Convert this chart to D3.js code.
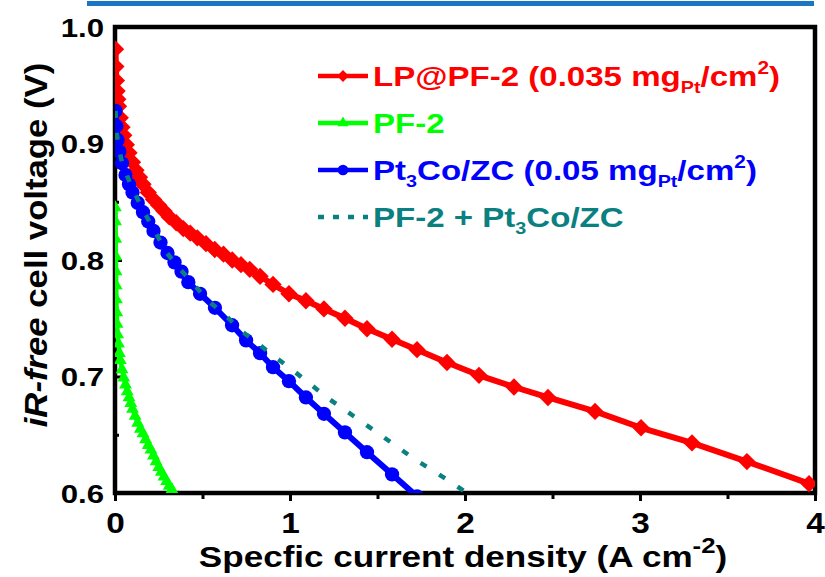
<!DOCTYPE html>
<html>
<head>
<meta charset="utf-8">
<script src="https://cdn.jsdelivr.net/npm/d3@7"></script>
<style>
  body { margin: 0; background: #fff; }
  svg { display: block; font-family: "Liberation Sans", Arial, sans-serif; font-weight: bold; }
</style>
</head>
<body>
<svg id="chart" width="825" height="577"></svg>
<script>
// LP@PF-2 (0.035 mgPt/cm2)
const lpCurrent = [0.003, 0.005, 0.008, 0.012, 0.016, 0.02, 0.03, 0.04, 0.05, 0.065, 0.08, 0.1, 0.12, 0.14, 0.16,
  0.19, 0.22, 0.25, 0.28, 0.31, 0.35, 0.39, 0.43, 0.47, 0.52, 0.57, 0.62, 0.67, 0.72, 0.77, 0.829, 0.903, 0.994,
  1.091, 1.194, 1.314, 1.44, 1.583, 1.726, 1.897, 2.08, 2.28, 2.474, 2.743, 3.006, 3.297, 3.611, 3.966];
const lpVoltage = [0.981, 0.966, 0.954, 0.945, 0.938, 0.932, 0.922, 0.914, 0.907, 0.899, 0.892, 0.884, 0.877, 0.871, 0.865,
  0.858, 0.852, 0.847, 0.842, 0.837, 0.832, 0.827, 0.823, 0.819, 0.814, 0.809, 0.805, 0.800, 0.796, 0.792, 0.786, 0.779, 0.771,
  0.765, 0.758, 0.750, 0.741, 0.732, 0.723, 0.712, 0.701, 0.691, 0.682, 0.670, 0.656, 0.643, 0.627, 0.608];

// PF-2
const pfCurrent = [0.002, 0.003, 0.004, 0.005, 0.006, 0.007, 0.008, 0.01, 0.012, 0.015, 0.02, 0.025, 0.03, 0.04, 0.05,
  0.06, 0.07, 0.08, 0.09, 0.1, 0.115, 0.13, 0.145, 0.16, 0.175, 0.19, 0.205, 0.22, 0.235, 0.25, 0.265, 0.28, 0.295, 0.31, 0.325];
const pfVoltage = [0.845, 0.833, 0.818, 0.803, 0.790, 0.778, 0.766, 0.755, 0.745, 0.736, 0.728, 0.720, 0.714, 0.706, 0.699,
  0.693, 0.687, 0.682, 0.677, 0.672, 0.666, 0.660, 0.655, 0.651, 0.646, 0.641, 0.637, 0.632, 0.627, 0.622, 0.618, 0.614, 0.610, 0.606, 0.603];

// Pt3Co/ZC (0.05 mgPt/cm2)
const ptCurrent = [0.003, 0.008, 0.015, 0.025, 0.04, 0.06, 0.08, 0.1, 0.13, 0.16, 0.19, 0.22, 0.26, 0.3, 0.34, 0.38,
  0.419, 0.486, 0.571, 0.669, 0.749, 0.829, 0.903, 0.994, 1.091, 1.194, 1.314, 1.44, 1.583, 1.726];
const ptVoltage = [0.928, 0.915, 0.903, 0.893, 0.883, 0.873, 0.865, 0.858, 0.849, 0.841, 0.833, 0.825, 0.815, 0.806, 0.798, 0.790,
  0.781, 0.771, 0.759, 0.744, 0.731, 0.720, 0.708, 0.696, 0.682, 0.668, 0.652, 0.635, 0.616, 0.597];

// PF-2 + Pt3Co/ZC
const sumCurrent = [0.003, 0.01, 0.02, 0.04, 0.07, 0.1, 0.15, 0.2, 0.297, 0.36, 0.446, 0.531, 0.629, 0.714, 0.811,
  0.903, 1.011, 1.211, 1.497, 1.703, 1.914, 2.02];
const sumVoltage = [0.928, 0.909, 0.897, 0.884, 0.872, 0.861, 0.846, 0.832, 0.806, 0.794, 0.780, 0.765, 0.753, 0.740, 0.729,
  0.718, 0.706, 0.682, 0.652, 0.630, 0.610, 0.599];

const xTicks = [0, 1, 2, 3, 4];
const xMinorTicks = [0.5, 1.5, 2.5, 3.5];
const yTicks = [0.6, 0.7, 0.8, 0.9, 1.0];
const yMinorTicks = [0.65, 0.75, 0.85, 0.95];

const svg = d3.select("#chart");

const x = d3.scaleLinear().domain([0, 4]).range([115, 815]);
const y = d3.scaleLinear().domain([0.6, 1.0]).range([493, 27]);

// cut-off rule of the page above
svg.append("rect").attr("x", 87).attr("y", 1).attr("width", 727).attr("height", 5).attr("fill", "#1b75c5");

svg.append("clipPath").attr("id", "plot-clip")
  .append("rect").attr("x", 115).attr("y", 27).attr("width", 700).attr("height", 466);

// axes
const yAxis = svg.append("g").attr("transform", "translate(115,0)")
  .call(d3.axisLeft(y).tickValues(yTicks).tickSize(-7).tickFormat(d3.format(".1f")));
const yMinor = svg.append("g").attr("transform", "translate(115,0)")
  .call(d3.axisLeft(y).tickValues(yMinorTicks).tickSize(-4).tickFormat(""));
const xAxis = svg.append("g").attr("transform", "translate(0,493)")
  .call(d3.axisBottom(x).tickValues(xTicks).tickSize(8).tickFormat(d3.format("d")));
const xMinor = svg.append("g").attr("transform", "translate(0,493)")
  .call(d3.axisBottom(x).tickValues(xMinorTicks).tickSize(6).tickFormat(""));

[yAxis, yMinor, xAxis, xMinor].forEach(a => {
  a.select(".domain").remove();
  a.selectAll(".tick line").attr("stroke", "#000").attr("stroke-width", 3);
});

yAxis.selectAll(".tick text")
  .attr("x", 0).attr("dy", "0.36em")
  .attr("transform", "translate(-11,0) scale(1.2,1)")
  .attr("font-size", 26).attr("font-weight", "bold").attr("fill", "#000")
  .attr("font-family", "Liberation Sans, Arial, sans-serif");

xAxis.selectAll(".tick text")
  .attr("y", 0).attr("dy", 0)
  .attr("transform", "translate(0,40) scale(1.15,1)")
  .attr("font-size", 29).attr("font-weight", "bold").attr("fill", "#000")
  .attr("font-family", "Liberation Sans, Arial, sans-serif");

// frame
svg.append("rect")
  .attr("x", 115).attr("y", 27).attr("width", 700).attr("height", 466)
  .attr("fill", "none").attr("stroke", "#000").attr("stroke-width", 4.5);

// series
const plot = svg.append("g").attr("clip-path", "url(#plot-clip)");

const diamond = d3.symbol(d3.symbolSquare, 150)();
const triangle = d3.symbol(d3.symbolTriangle, 72)();
const circle = d3.symbol(d3.symbolCircle, 160)();

function drawSeries(cur, volt, color, width, shape, rotate, dash) {
  const pts = cur.map((c, i) => [c, volt[i]]);
  const line = d3.line().x(d => x(d[0])).y(d => y(d[1]));
  plot.append("path").datum(pts)
    .attr("d", line).attr("fill", "none")
    .attr("stroke", color).attr("stroke-width", width)
    .attr("stroke-dasharray", dash || null)
    .attr("stroke-linejoin", "round");
  if (!shape) return;
  plot.append("g").selectAll("path").data(pts).join("path")
    .attr("d", shape)
    .attr("fill", color)
    .attr("transform", d => `translate(${x(d[0])},${y(d[1])}) rotate(${rotate})`);
}

drawSeries(lpCurrent, lpVoltage, "#ff0000", 6, diamond, 45);
drawSeries(pfCurrent, pfVoltage, "#00ff00", 4.5, triangle, 0);
drawSeries(ptCurrent, ptVoltage, "#0000ff", 6, circle, 0);
drawSeries(sumCurrent, sumVoltage, "#0a8080", 4.5, null, 0, "7,15");

// legend
const legendRows = [
  { color: "#ff0000", shape: d3.symbol(d3.symbolSquare, 70)(), rotate: 45, parts: [["LP@PF-2 (0.035 mg"], ["Pt", "sub"], ["/cm"], ["2", "sup"], [")"]] },
  { color: "#00ff00", shape: d3.symbol(d3.symbolTriangle, 55)(), rotate: 0, parts: [["PF-2"]] },
  { color: "#0000ff", shape: d3.symbol(d3.symbolCircle, 90)(), rotate: 0, parts: [["Pt"], ["3", "sub"], ["Co/ZC (0.05 mg"], ["Pt", "sub"], ["/cm"], ["2", "sup"], [")"]] },
  { color: "#0a8080", shape: null, rotate: 0, dash: "6,9", parts: [["PF-2 + Pt"], ["3", "sub"], ["Co/ZC"]] }
];
const legendBase = [86, 133, 180, 227];

legendRows.forEach((row, i) => {
  const by = legendBase[i];
  svg.append("line")
    .attr("x1", 318).attr("x2", 368).attr("y1", by - 10).attr("y2", by - 10)
    .attr("stroke", row.color).attr("stroke-width", 4.5)
    .attr("stroke-dasharray", row.dash || null);
  if (row.shape) {
    svg.append("path").attr("d", row.shape).attr("fill", row.color)
      .attr("transform", `translate(343,${by - 10}) rotate(${row.rotate})`);
  }
  const t = svg.append("g").attr("transform", `translate(373,${by}) scale(1.16,1)`)
    .append("text").attr("font-size", 28.5).attr("fill", row.color);
  let shift = 0;
  row.parts.forEach(p => {
    let dy = -shift, size = 28.5;
    if (p[1] === "sub") { dy += 7; shift = 7; size = 17; }
    else if (p[1] === "sup") { dy += -12; shift = -12; size = 18; }
    else shift = 0;
    t.append("tspan").attr("dy", dy).attr("font-size", size).text(p[0]);
  });
});

// axis titles
const xt = svg.append("g").attr("transform", "translate(463,567) scale(1.17,1)")
  .append("text").attr("text-anchor", "middle").attr("font-size", 30).attr("fill", "#000");
xt.append("tspan").text("Specfic current density (A cm");
xt.append("tspan").attr("dy", -14).attr("font-size", 22).text("-2");
xt.append("tspan").attr("dy", 14).text(")");

const yt = svg.append("g").attr("transform", "translate(47,245) rotate(-90) scale(1.12,1)")
  .append("text").attr("text-anchor", "middle").attr("font-size", 31).attr("fill", "#000");
yt.append("tspan").attr("font-style", "italic").text("iR-free");
yt.append("tspan").text(" cell voltage (V)");
</script>
</body>
</html>
